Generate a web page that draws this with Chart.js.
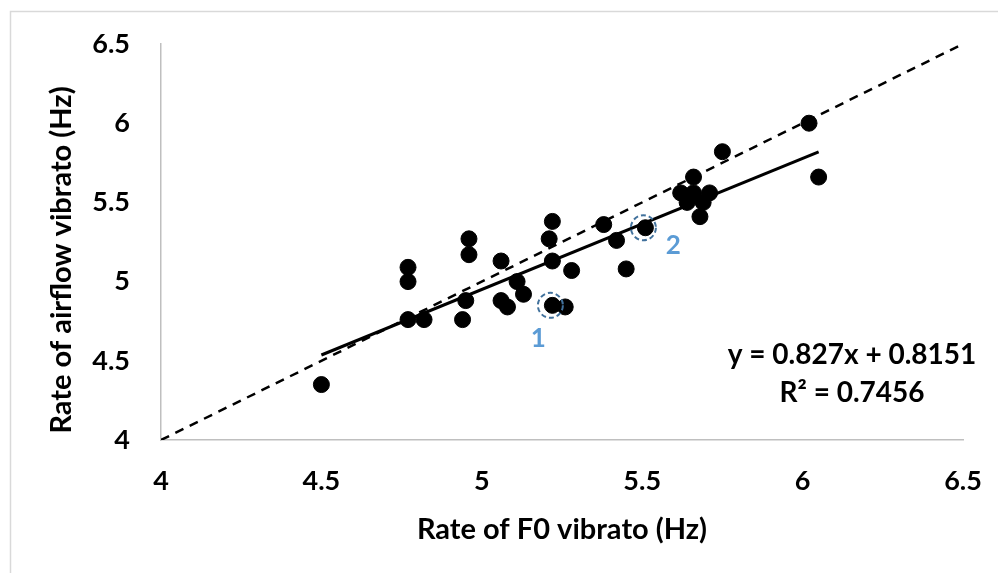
<!DOCTYPE html>
<html>
<head>
<meta charset="utf-8">
<script src="https://cdn.jsdelivr.net/npm/chart.js@4.4.1/dist/chart.umd.min.js"></script>
<style>
  html, body { margin: 0; padding: 0; background: #fff; }
  #wrap { width: 998px; height: 573px; }
</style>
</head>
<body>
<div id="wrap"><canvas id="vibrato-chart"></canvas></div>
<script>
// Rate of F0 vibrato (x) vs rate of airflow vibrato (y), Hz
var f0Rate = [4.50, 4.77, 4.77, 4.77, 4.82, 4.94, 4.95, 4.96, 4.96, 5.06, 5.06, 5.08,
    5.11, 5.13, 5.21, 5.22, 5.22, 5.22, 5.26, 5.28, 5.38, 5.42, 5.45, 5.51,
    5.62, 5.66, 5.71, 5.66, 5.64, 5.69, 5.68, 5.75, 6.02, 6.05];
var airflowRate = [4.35, 5.09, 5.00, 4.76, 4.76, 4.76, 4.88, 5.27, 5.17, 5.13, 4.88, 4.84,
    5.00, 4.92, 5.27, 5.38, 5.13, 4.85, 4.84, 5.07, 5.36, 5.26, 5.08, 5.34,
    5.56, 5.56, 5.56, 5.66, 5.50, 5.50, 5.41, 5.82, 6.00, 5.66];
// indexes of the two marked samples and their labels
var markedIdx = [17, 23];
var markedText = ["1", "2"];
// fitted line y = slope*x + intercept, drawn over the data range
var slope = 0.827;
var intercept = 0.8151;
var rSquared = 0.7456;
var fitRange = [4.5, 6.05];
var identityRange = [4, 6.5];
var axisTicks = [4, 4.5, 5, 5.5, 6, 6.5];

var FONT = "Lato, 'Open Sans', sans-serif";
var yTitle = 'Rate of airflow vibrato (Hz)';

var points = f0Rate.map(function (x, i) { return { x: x, y: airflowRate[i] }; });
var fitLine = fitRange.map(function (x) { return { x: x, y: slope * x + intercept }; });
var identity = identityRange.map(function (v) { return { x: v, y: v }; });

var extras = {
    id: 'extras',
    beforeDraw: function (chart) {
        var ctx = chart.ctx;
        ctx.save();
        ctx.strokeStyle = '#d9d9d9';
        ctx.lineWidth = 1.5;
        ctx.beginPath();
        ctx.moveTo(10.5, 573);
        ctx.lineTo(10.5, 11.5);
        ctx.lineTo(998, 11.5);
        ctx.stroke();
        ctx.restore();
    },
    afterDraw: function (chart) {
        var ctx = chart.ctx;
        var xs = chart.scales.x, ys = chart.scales.y;
        ctx.save();
        markedIdx.forEach(function (idx, k) {
            var px = xs.getPixelForValue(f0Rate[idx]);
            var py = ys.getPixelForValue(airflowRate[idx]);
            ctx.strokeStyle = '#41719c';
            ctx.lineWidth = 2;
            ctx.setLineDash([5, 3]);
            ctx.beginPath();
            ctx.arc(px - 2, py, 12.5, 0, Math.PI * 2);
            ctx.stroke();
            ctx.setLineDash([]);
            ctx.fillStyle = '#5b9bd5';
            ctx.font = 'bold 26px ' + FONT;
            ctx.textAlign = 'center';
            ctx.textBaseline = 'middle';
            if (k === 0) ctx.fillText(markedText[k], px - 14, py + 33);
            else ctx.fillText(markedText[k], px + 28, py + 18);
        });
        ctx.fillStyle = '#000';
        ctx.font = 'bold 28px ' + FONT;
        ctx.textAlign = 'center';
        ctx.textBaseline = 'middle';
        ctx.fillText('y = ' + slope + 'x + ' + intercept, 852, 355);
        ctx.fillText('R\u00b2 = ' + rSquared, 852, 393);
        // y axis title
        ctx.translate(62, 260);
        ctx.rotate(-Math.PI / 2);
        ctx.font = 'bold 29px ' + FONT;
        ctx.fillText(yTitle, 0, 0);
        ctx.restore();
    }
};

function fmt(v) { return String(Math.round(v * 10) / 10); }

new Chart(document.getElementById('vibrato-chart'), {
    type: 'scatter',
    data: {
        datasets: [{
            label: 'samples',
            data: points,
            backgroundColor: '#000',
            borderColor: '#000',
            pointRadius: 8,
            pointHoverRadius: 8
        }, {
            label: 'fit',
            data: fitLine,
            showLine: true,
            borderColor: '#000',
            borderWidth: 3,
            pointRadius: 0
        }, {
            label: 'y = x',
            data: identity,
            showLine: true,
            borderColor: '#000',
            borderWidth: 2.5,
            borderDash: [9, 7],
            pointRadius: 0
        }]
    },
    options: {
        responsive: true,
        maintainAspectRatio: false,
        animation: false,
        layout: { padding: { left: 0, top: 44, right: 35, bottom: 0 } },
        plugins: {
            legend: { display: false },
            tooltip: { enabled: false }
        },
        scales: {
            x: {
                type: 'linear',
                min: 4, max: 6.5,
                afterBuildTicks: function (s) { s.ticks = axisTicks.map(function (v) { return { value: v }; }); },
                afterFit: function (s) { s.height = 133; s.paddingLeft = 0; s.paddingRight = 0; },
                grid: { display: false, drawTicks: false, tickLength: 0 },
                border: { display: true, color: '#bfbfbf', width: 1.5 },
                ticks: { color: '#000', padding: 25, callback: fmt,
                    font: { family: FONT, size: 27, weight: 'bold' } },
                title: {
                    display: true, text: 'Rate of F0 vibrato (Hz)', color: '#000',
                    font: { family: FONT, size: 29, weight: 'bold' },
                    padding: { top: 0, bottom: 26 }
                }
            },
            y: {
                type: 'linear',
                min: 4, max: 6.5,
                afterBuildTicks: function (s) { s.ticks = axisTicks.map(function (v) { return { value: v }; }); },
                afterFit: function (s) { s.width = 161; s.paddingTop = 0; s.paddingBottom = 0; },
                grid: { display: false, drawTicks: false, tickLength: 0 },
                border: { display: true, color: '#bfbfbf', width: 1.5 },
                ticks: { color: '#000', padding: 31, callback: fmt,
                    font: { family: FONT, size: 27, weight: 'bold' } },
                title: { display: false }
            }
        }
    },
    plugins: [extras]
});
</script>
</body>
</html>
